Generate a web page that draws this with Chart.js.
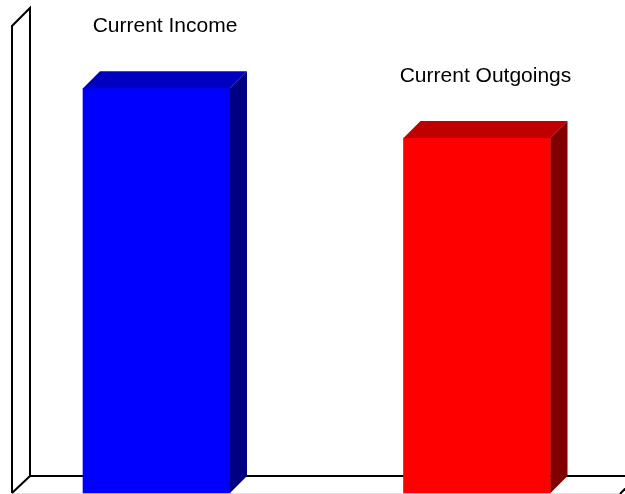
<!DOCTYPE html>
<html>
<head>
<meta charset="utf-8">
<script src="https://cdn.jsdelivr.net/npm/chart.js@4.4.0/dist/chart.umd.min.js"></script>
<style>
  html, body { margin: 0; padding: 0; background: #fff; }
  #wrap { width: 625px; height: 494px; position: relative; }
</style>
</head>
<body>
<div id="wrap"><canvas id="budget"></canvas></div>
<script>
// bar data
const categories = ['Current Income', 'Current Outgoings'];
const amounts = [2600, 2280];
const frontColors = ['#0000ff', '#ff0000'];
const topColors = ['#0000c0', '#c00000'];
const sideColors = ['#000080', '#800000'];
const yMax = 3000;

const depth = 17; // 3d offset in px

// left wall + floor drawn behind the bars
const wallPlugin = {
  id: 'wall',
  beforeDatasetsDraw(chart) {
    const c = chart.ctx;
    const a = chart.chartArea;
    const wx = 12;
    const floorRight = 620;
    c.save();
    // front edge of the floor
    c.strokeStyle = '#e4e4e4';
    c.lineWidth = 1;
    c.beginPath();
    c.moveTo(wx, a.bottom + 0.5);
    c.lineTo(floorRight, a.bottom + 0.5);
    c.stroke();

    c.strokeStyle = '#000';
    c.lineWidth = 2;
    c.lineJoin = 'miter';
    c.beginPath();
    c.moveTo(wx, a.bottom);
    c.lineTo(wx, a.top);
    c.lineTo(wx + depth + 1, a.top - depth - 1);
    c.lineTo(wx + depth + 1, a.bottom - depth);
    c.lineTo(wx, a.bottom);
    c.stroke();
    c.beginPath();
    c.moveTo(wx + depth + 1, a.bottom - depth);
    c.lineTo(floorRight + depth + 4, a.bottom - depth);
    c.stroke();
    c.beginPath();
    c.moveTo(floorRight + depth, a.bottom - depth);
    c.lineTo(floorRight, a.bottom + 1);
    c.stroke();
    c.restore();
  }
};

// top and side faces of each bar, plus the label above it
const boxPlugin = {
  id: 'box3d',
  afterDatasetsDraw(chart) {
    const c = chart.ctx;
    const meta = chart.getDatasetMeta(0);
    c.save();
    meta.data.forEach((bar, i) => {
      const p = bar.getProps(['x', 'y', 'base', 'width'], true);
      const x1 = p.x - p.width / 2;
      const x2 = p.x + p.width / 2;
      const top = p.y;
      const bottom = p.base;

      c.fillStyle = topColors[i];
      c.beginPath();
      c.moveTo(x1, top);
      c.lineTo(x1 + depth, top - depth);
      c.lineTo(x2 + depth, top - depth);
      c.lineTo(x2, top);
      c.closePath();
      c.fill();

      c.fillStyle = sideColors[i];
      c.beginPath();
      c.moveTo(x2, top);
      c.lineTo(x2 + depth, top - depth);
      c.lineTo(x2 + depth, bottom - depth);
      c.lineTo(x2, bottom);
      c.closePath();
      c.fill();

      c.fillStyle = '#000';
      c.font = '21px "Liberation Sans", Arial, sans-serif';
      c.textAlign = 'center';
      c.textBaseline = 'alphabetic';
      c.fillText(categories[i], p.x + depth / 2, top - depth - 39);
    });
    c.restore();
  }
};

const ctx = document.getElementById('budget');
const budgetChart = new Chart(ctx, {
  type: 'bar',
  data: {
    labels: categories,
    datasets: [{
      data: amounts,
      backgroundColor: frontColors,
      borderWidth: 0,
      barThickness: 147,
      clip: false
    }]
  },
  options: {
    responsive: true,
    maintainAspectRatio: false,
    animation: false,
    layout: { padding: { top: 26, bottom: 1, left: 156.5, right: 148 } },
    plugins: { legend: { display: false }, tooltip: { enabled: false } },
    scales: {
      x: { display: false, offset: false },
      y: { display: false, min: 0, max: yMax }
    }
  },
  plugins: [wallPlugin, boxPlugin]
});
</script>
</body>
</html>
